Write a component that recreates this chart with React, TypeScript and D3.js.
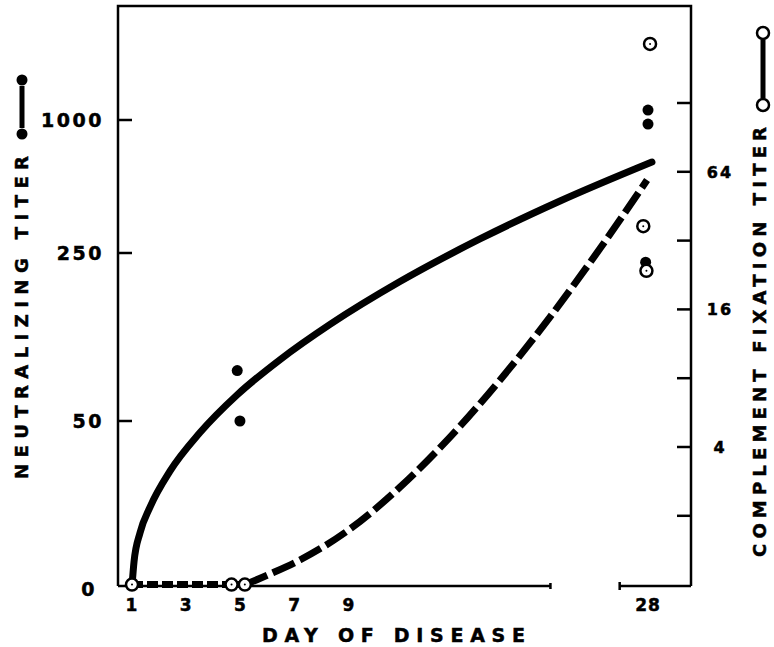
import React, { useEffect, useRef } from "react";
import * as d3 from "d3";

const W = 774;
const H = 647;

// x axis: day of disease (broken between the two segments)
const dayTicks = [1, 3, 5, 7, 9, 28];
const breakStart = 21.8;
const breakEnd = 26.2;

// left axis: neutralizing titer
const neutTicks = [0, 50, 250, 1000];
// right axis: complement fixation titer
const cfTicks = [2, 4, 8, 16, 32, 64, 128];
const cfLabels = [4, 16, 64];

// observed titers
const neutDays = [4.88, 4.98, 28.0, 28.0, 27.85];
const neutTiters = [110, 50, 1056, 977, 239];
const cfDays = [1, 4.67, 5.16, 28.13, 27.7, 27.9];
const cfTiters = [1, 1, 1, 232, 37, 23.6];

// drawn curves
const neutCurveDays = [1, 1.074, 1.295, 1.664, 2.4, 3.507, 4.871, 6.456, 8.3, 12.24, 17.32, 22.41, 28.25];
const neutCurveTiters = [0, 7.3, 16.1, 23.9, 34.8, 46.5, 81, 123, 165, 216, 329, 543, 763];
const cfCurveDays = [1, 5.17, 6.09, 7.19, 9.06, 12.24, 15.42, 18.6, 21.77, 24.95, 27.94];
const cfCurveTiters = [1, 1, 1.113, 1.281, 1.75, 2.67, 4.42, 7.86, 14.8, 29.55, 58.9];

const FONT = "'DejaVu Sans', sans-serif";

function TiterChart() {
  const ref = useRef<SVGSVGElement>(null);

  useEffect(() => {
    const svg = d3.select(ref.current);
    svg.selectAll("*").remove();

    const left = 118, right = 691, top = 6, bottom = 586;

    const x = d3.scaleLinear().domain([1, 9, 28]).range([132, 349, 648]);
    const yL = d3.scaleLinear().domain([0, 50, 250, 1000]).range([586, 421, 253, 120]);
    const yR = d3.scaleLog().base(2).domain([4, 128]).range([447, 103]);

    const label = (sel: any, size: number) =>
      sel.attr("font-family", FONT).attr("font-weight", "bold")
        .attr("font-size", size).attr("fill", "#000")
        .attr("stroke", "#000").attr("stroke-width", 0.5);

    // frame
    svg.append("path")
      .attr("d", `M${left},${bottom} V${top} H${right} V${bottom}`)
      .attr("fill", "none").attr("stroke", "#000").attr("stroke-width", 2.5);

    // broken day axis
    const xb1 = x(breakStart), xb2 = x(breakEnd);
    svg.append("path")
      .attr("d", `M${left},${bottom} H${xb1} M${xb2},${bottom} H${right}`)
      .attr("fill", "none").attr("stroke", "#000").attr("stroke-width", 2.5);
    svg.append("path")
      .attr("d", `M${xb1},${bottom - 3} V${bottom + 3} M${xb2},${bottom - 4} V${bottom + 4}`)
      .attr("stroke", "#000").attr("stroke-width", 2.5);

    // left ticks (inward)
    svg.selectAll(".lt").data(neutTicks.filter(d => d > 0)).enter().append("line")
      .attr("x1", left).attr("x2", left + 14)
      .attr("y1", d => yL(d)).attr("y2", d => yL(d))
      .attr("stroke", "#000").attr("stroke-width", 2.5);
    svg.selectAll(".ll").data(neutTicks).enter().append("text")
      .text(d => d)
      .attr("x", d => (d === 0 ? 97 : 104))
      .attr("y", d => yL(d) + (d === 0 ? 10 : 7))
      .attr("text-anchor", "end")
      .attr("letter-spacing", 2.5)
      .call(label, 19);

    // right ticks (inward)
    svg.selectAll(".rt").data(cfTicks).enter().append("line")
      .attr("x1", right - 14).attr("x2", right)
      .attr("y1", d => yR(d)).attr("y2", d => yR(d))
      .attr("stroke", "#000").attr("stroke-width", 2.5);
    svg.selectAll(".rl").data(cfLabels).enter().append("text")
      .text(d => d)
      .attr("x", 720).attr("y", d => yR(d) + 6)
      .attr("text-anchor", "middle")
      .attr("letter-spacing", 2)
      .call(label, 16);

    // day labels
    svg.selectAll(".xl").data(dayTicks).enter().append("text")
      .text(d => d)
      .attr("x", d => x(d)).attr("y", 611)
      .attr("text-anchor", "middle")
      .attr("letter-spacing", 1)
      .call(label, 17);

    // titles
    svg.append("text")
      .text("DAY OF DISEASE")
      .attr("x", 262).attr("y", 642)
      .attr("textLength", 263).attr("lengthAdjust", "spacing")
      .call(label, 19);

    svg.append("text")
      .text("NEUTRALIZING TITER")
      .attr("transform", "translate(28,479) rotate(-90)")
      .attr("textLength", 323).attr("lengthAdjust", "spacing")
      .call(label, 18);

    svg.append("text")
      .text("COMPLEMENT FIXATION TITER")
      .attr("transform", "translate(766,557) rotate(-90)")
      .attr("textLength", 430).attr("lengthAdjust", "spacing")
      .call(label, 18);

    // legend keys beside titles
    svg.append("line").attr("x1", 22).attr("x2", 22).attr("y1", 86).attr("y2", 128)
      .attr("stroke", "#000").attr("stroke-width", 5);
    svg.selectAll(".lk").data([80, 134]).enter().append("circle")
      .attr("cx", 22).attr("cy", d => d).attr("r", 5.5).attr("fill", "#000");

    svg.append("line").attr("x1", 763).attr("x2", 763).attr("y1", 40).attr("y2", 98)
      .attr("stroke", "#000").attr("stroke-width", 5);
    svg.selectAll(".rk").data([33, 105]).enter().append("circle")
      .attr("cx", 763).attr("cy", d => d).attr("r", 6)
      .attr("fill", "#fff").attr("stroke", "#000").attr("stroke-width", 2.5);

    // curves
    const neutLine = d3.line<number>()
      .x((_, i) => x(neutCurveDays[i]))
      .y(d => yL(d))
      .curve(d3.curveMonotoneX);
    svg.append("path")
      .attr("d", neutLine(neutCurveTiters))
      .attr("fill", "none").attr("stroke", "#000")
      .attr("stroke-width", 7).attr("stroke-linecap", "round");

    const cfPts = cfCurveDays.map((d, i) => [d, cfCurveTiters[i]] as [number, number]);
    const cfLine = d3.line<[number, number]>()
      .x(d => x(d[0]))
      .y(d => yR(d[1]))
      .curve(d3.curveMonotoneX);
    svg.append("path")
      .attr("d", cfLine(cfPts.slice(0, 2)))
      .attr("fill", "none").attr("stroke", "#000")
      .attr("stroke-width", 7).attr("stroke-dasharray", "11 4");
    svg.append("path")
      .attr("d", cfLine(cfPts.slice(1)))
      .attr("fill", "none").attr("stroke", "#000")
      .attr("stroke-width", 7).attr("stroke-dasharray", "24 6");

    // observed points
    svg.selectAll(".np").data(neutTiters).enter().append("circle")
      .attr("cx", (_, i) => x(neutDays[i])).attr("cy", d => yL(d))
      .attr("r", 5.5).attr("fill", "#000");

    svg.selectAll(".cp").data(cfTiters).enter().append("circle")
      .attr("cx", (_, i) => x(cfDays[i])).attr("cy", d => yR(d))
      .attr("r", 6).attr("fill", "#fff")
      .attr("stroke", "#000").attr("stroke-width", 2.5);
    svg.selectAll(".cc").data(cfTiters).enter().append("circle")
      .attr("cx", (_, i) => x(cfDays[i])).attr("cy", d => yR(d))
      .attr("r", 1).attr("fill", "#000");
  }, []);

  return (
    <svg ref={ref} width={W} height={H}
      style={{ position: "absolute", left: 0, top: 0, background: "#fff" }} />
  );
}

export default function App() {
  return <TiterChart />;
}
